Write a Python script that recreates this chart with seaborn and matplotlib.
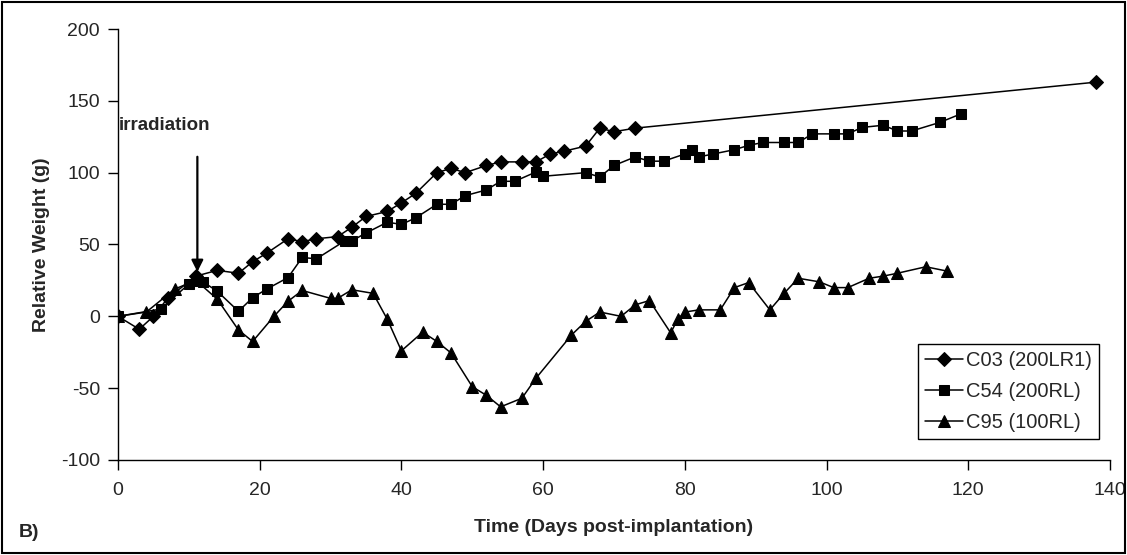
import numpy as np
import pandas as pd
import matplotlib
matplotlib.use("Agg")
import matplotlib.pyplot as plt
import seaborn as sns
from matplotlib.patches import Rectangle

# data
c03_days = [0, 3, 5, 7, 11, 14, 17, 19, 21, 24, 26, 28, 31, 33, 35, 38, 40, 42, 45, 47, 49,
            52, 54, 57, 59, 61, 63, 66, 68, 70, 73, 138]
c03_vals = [0, -9, 0, 12.5, 28, 32, 30, 38, 44, 54, 52, 54, 55.5, 62, 69.5, 73, 79, 85.5, 100, 103, 100,
            105, 107.5, 107.5, 107.5, 113, 115, 118.5, 131, 128.5, 131, 163]

c54_days = [0, 6, 10, 12, 14, 17, 19, 21, 24, 26, 28, 32, 33, 35, 38, 40, 42, 45, 47, 49,
            52, 54, 56, 59, 60, 66, 68, 70, 73, 75, 77, 80, 81, 82, 84, 87, 89, 91,
            94, 96, 98, 101, 103, 105, 108, 110, 112, 116, 119]
c54_vals = [0, 5, 22.5, 24, 17.5, 3.5, 13, 19, 27, 41, 40, 52.5, 52.5, 58, 65.5, 64, 68.5, 78, 78, 84,
            88, 94, 94, 100.5, 97.5, 100, 97, 105, 111, 108, 108, 113, 116, 111, 113, 116, 119, 121,
            121, 121, 127, 127, 127, 131.5, 133, 129, 129, 135, 141]

c95_days = [0, 4, 8, 11, 14, 17, 19, 22, 24, 26, 30, 31, 33, 36, 38, 40, 43, 45, 47, 50,
            52, 54, 57, 59, 64, 66, 68, 71, 73, 75, 78, 79, 80, 82, 85, 87, 89, 92,
            94, 96, 99, 101, 103, 106, 108, 110, 114, 117]
c95_vals = [0, 3, 19, 25, 12, -9.5, -17.5, 0, 10.5, 18, 12.5, 12.5, 18.5, 16, -2, -24, -11, -17.5, -25.5, -49,
            -55, -63, -57, -43, -13, -3.5, 3, 0, 8, 11, -11.5, -2, 3, 4.5, 4.5, 20, 23.5, 4.5,
            16, 26.5, 24, 20, 20, 26.5, 28, 30, 34.5, 31.5]

labels = ["C03 (200LR1)", "C54 (200RL)", "C95 (100RL)"]
irr_day = 11.2

sns.set_style("white")
plt.rcParams['font.family'] = ['Liberation Sans', 'DejaVu Sans']
plt.rcParams['axes.unicode_minus'] = False

fig = plt.figure(figsize=(11.27, 5.55), dpi=100)
ax = fig.add_axes([118 / 1127, 1 - 460 / 555, 992 / 1127, 431 / 555])

sns.lineplot(x=c03_days, y=c03_vals, ax=ax, color="black", lw=1.1, marker="D", ms=7.5,
             mec="black", mfc="black", label=labels[0])
sns.lineplot(x=c54_days, y=c54_vals, ax=ax, color="black", lw=1.1, marker="s", ms=7.5,
             mec="black", mfc="black", label=labels[1])
sns.lineplot(x=c95_days, y=c95_vals, ax=ax, color="black", lw=1.1, marker="^", ms=8,
             mec="black", mfc="black", label=labels[2])

# irradiation arrow
ax.annotate("", xy=(irr_day, 29), xytext=(irr_day, 113),
            arrowprops=dict(arrowstyle="-|>,head_length=0.7,head_width=0.35", color="black", lw=1.6))
ax.text(6.5, 133, "irradiation", ha="center", va="center", fontsize=13.5, fontweight="bold")

ax.set_xlim(0, 140)
ax.set_ylim(-100, 200)
ax.set_xticks(range(0, 141, 20))
ax.set_yticks(range(-100, 201, 50))
ax.tick_params(axis="both", labelsize=14, direction="out", length=7, width=1, color="black",
               bottom=True, left=True)
ax.tick_params(axis="x", pad=9)
ax.tick_params(axis="y", pad=6)
for s in ["top", "right"]:
    ax.spines[s].set_visible(False)
for s in ["left", "bottom"]:
    ax.spines[s].set_color("black")
    ax.spines[s].set_linewidth(1)

ax.set_xlabel("Time (Days post-implantation)", fontsize=14, fontweight="bold", labelpad=14)
ax.set_ylabel("Relative Weight (g)", fontsize=14, fontweight="bold", labelpad=8)

leg = ax.legend(loc="lower right", bbox_to_anchor=(0.989, 0.049), fontsize=14.5, frameon=True,
                fancybox=False, edgecolor="black", framealpha=1, handlelength=1.9,
                borderpad=0.35, labelspacing=0.6, handletextpad=0.15, borderaxespad=0)
leg.get_frame().set_linewidth(1)

fig.text(0.017, 0.04, "B)", fontsize=14, fontweight="bold", ha="left", va="center")
fig.patches.append(Rectangle((0.002, 0.003), 0.996, 0.994, transform=fig.transFigure,
                             fill=False, lw=1.5, ec="black"))

fig.savefig("out.png", dpi=100)
